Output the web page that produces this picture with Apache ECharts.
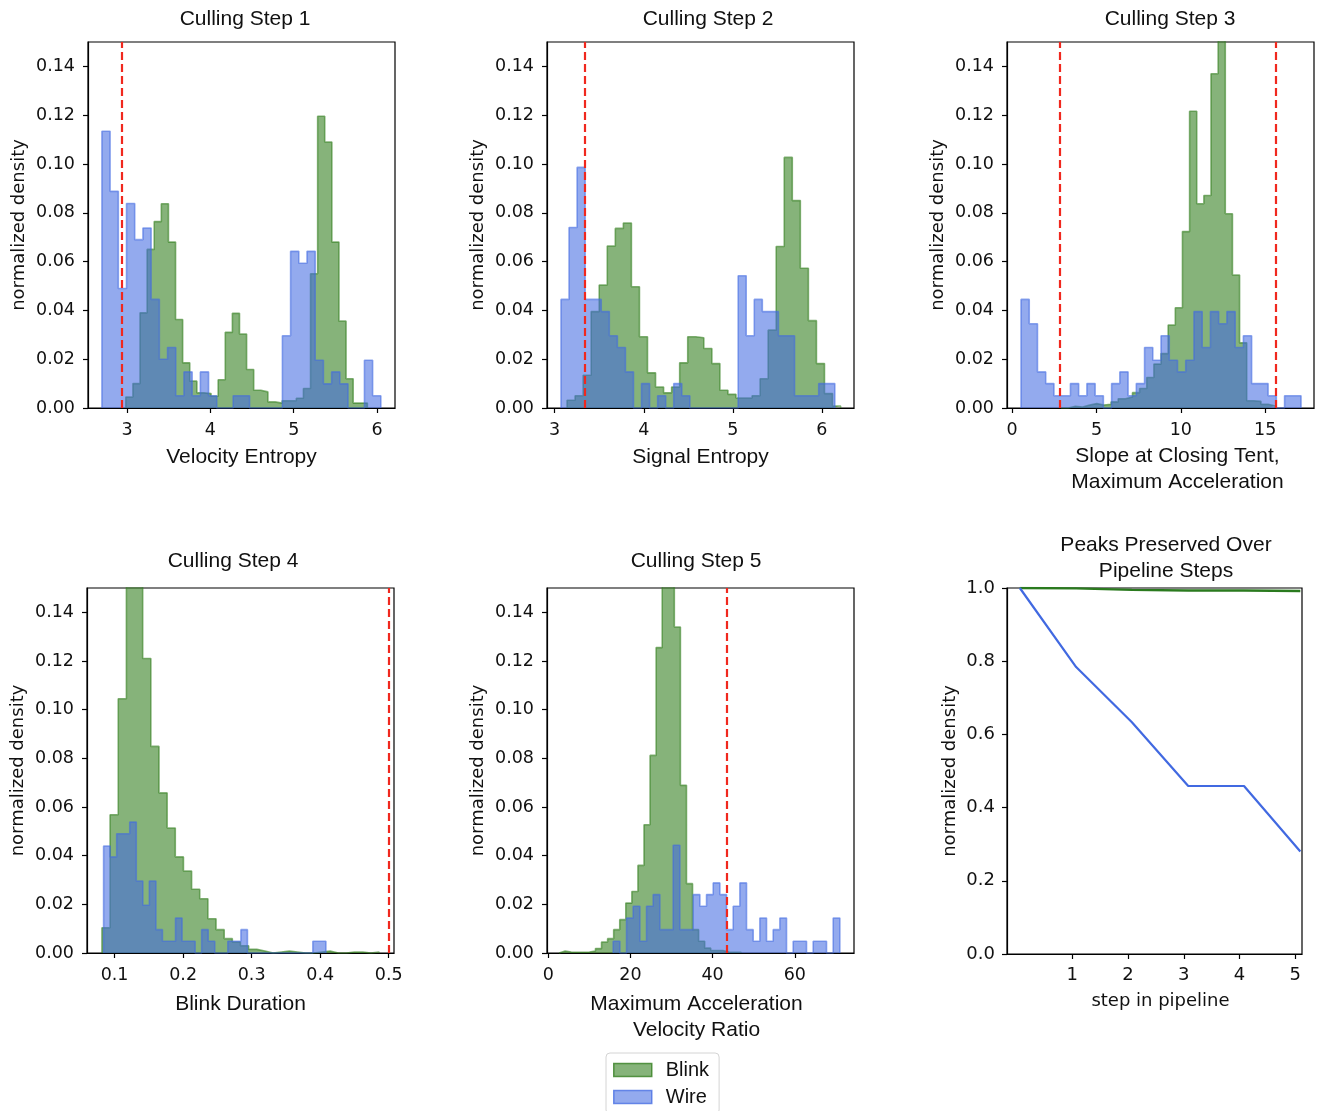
<!DOCTYPE html>
<html>
<head>
<meta charset="utf-8">
<script src="https://cdn.jsdelivr.net/npm/echarts@6/dist/echarts.min.js"></script>
<style>
  html, body { margin: 0; background: #fff; }
  #chart { width: 1317px; height: 1111px; }
</style>
</head>
<body>
<div id="chart"></div>
<script>
// ---- data (normalized density per bin) ----
// step 1: velocity entropy
const step1BlinkStart = 2.984, step1BlinkWidth = 0.0853
const step1Blink = [0.0045, 0.010, 0.039, 0.065, 0.0764, 0.0837, 0.068, 0.0363, 0.0185, 0.011, 0.0062, 0.0059, 0.0048, 0.0116, 0.031, 0.0388, 0.0303, 0.0158, 0.0073, 0.0066, 0.0025, 0.002, 0.003, 0.003, 0.004, 0.008, 0.055, 0.1196, 0.109, 0.068, 0.0356, 0.012, 0.002, 0.002]
const step1WireStart = 2.697, step1WireWidth = 0.0985
const step1Wire = [0.1134, 0.0888, 0.049, 0.0838, 0.069, 0.0738, 0.0445, 0.020, 0.0248, 0.005, 0.0148, 0.005, 0.0148, 0.005, 0, 0, 0.005, 0.005, 0, 0, 0, 0, 0.0296, 0.0642, 0.0593, 0.0642, 0.0196, 0.0099, 0.0148, 0.0099, 0, 0, 0.0196, 0.005]
const step1Cuts = [2.93]
const step1Ticks = [3, 4, 5, 6]

// step 2: signal entropy
const step2BlinkStart = 3.139, step2BlinkWidth = 0.0903
const step2Blink = [0.0032, 0.005, 0.0134, 0.0395, 0.0504, 0.0664, 0.0736, 0.0758, 0.0497, 0.0292, 0.0144, 0.0086, 0.0062, 0.0086, 0.0185, 0.0292, 0.0288, 0.0244, 0.0182, 0.0073, 0.0056, 0.0041, 0.0041, 0.005, 0.012, 0.0319, 0.0662, 0.1027, 0.085, 0.0573, 0.0358, 0.0182, 0.0059, 0.0008]
const step2WireStart = 3.071, step2WireWidth = 0.0904
const step2Wire = [0.0445, 0.074, 0.0986, 0.0445, 0.0445, 0.0395, 0.0296, 0.0248, 0.0148, 0, 0.01, 0, 0.005, 0, 0.01, 0.005, 0, 0, 0, 0, 0, 0, 0.0542, 0.0296, 0.0445, 0.0395, 0.0395, 0.0296, 0.0296, 0.005, 0.005, 0.005, 0.01, 0.01]
const step2Cuts = [3.34]
const step2Ticks = [3, 4, 5, 6]

// step 3: slope at closing tent, maximum acceleration
const step3BlinkStart = 2.905, step3BlinkWidth = 0.423
const step3Blink = [0, 0.0007, 0.0004, 0.0012, 0.0018, 0.0012, 0.0015, 0.0025, 0.0038, 0.0045, 0.0063, 0.008, 0.0125, 0.018, 0.0223, 0.034, 0.0411, 0.0723, 0.1216, 0.0837, 0.0871, 0.137, 0.165, 0.0796, 0.0545, 0.0267, 0.003, 0.0027, 0.0015, 0.0008]
const step3WireStart = 0.53, step3WireWidth = 0.488
const step3Wire = [0.0445, 0.0345, 0.0148, 0.01, 0.005, 0.005, 0.01, 0.005, 0.01, 0.005, 0, 0.01, 0.0148, 0.005, 0.01, 0.0248, 0.0196, 0.0296, 0.0196, 0.0148, 0.0196, 0.0395, 0.0248, 0.0395, 0.0345, 0.0395, 0.0248, 0.0296, 0.01, 0.01, 0.005, 0, 0.005, 0.005]
const step3Cuts = [2.85, 15.63]
const step3Ticks = [0, 5, 10, 15]

// step 4: blink duration
const step4BlinkStart = 0.0816, step4BlinkWidth = 0.01189
const step4Blink = [0.0104, 0.0568, 0.1045, 0.17, 0.165, 0.121, 0.0849, 0.0658, 0.0514, 0.0395, 0.0337, 0.0262, 0.0223, 0.0141, 0.0096, 0.0059, 0.0045, 0.003, 0.0015, 0.0008, 0, 0.0004, 0.0008, 0.0004, 0, 0, 0.0004, 0.0008, 0, 0, 0.0004, 0.0004, 0, 0.0004]
const step4WireStart = 0.084, step4WireWidth = 0.00954
const step4Wire = [0.044, 0.0395, 0.049, 0.049, 0.0538, 0.0296, 0.0196, 0.0296, 0.0096, 0.0048, 0.0048, 0.0144, 0.0048, 0.0048, 0, 0.0096, 0.0048, 0, 0, 0.0048, 0.0048, 0.0096, 0, 0, 0, 0, 0, 0, 0, 0, 0, 0, 0.0048, 0.0048]
const step4Cuts = [0.5]
const step4Ticks = [0.1, 0.2, 0.3, 0.4, 0.5]

// step 5: maximum acceleration / velocity ratio
const step5BlinkStart = 2.64, step5BlinkWidth = 1.476
const step5Blink = [0.0008, 0.0004, 0.0003, 0.0003, 0.0004, 0.0008, 0.0018, 0.0045, 0.0059, 0.0096, 0.0137, 0.0205, 0.0253, 0.036, 0.0527, 0.0812, 0.1255, 0.17, 0.16, 0.134, 0.0689, 0.0285, 0.0096, 0.0048, 0.002, 0.001, 0.001, 0.0004, 0.0003, 0.0003]
const step5WireStart = 15.81, step5WireWidth = 1.622
const step5Wire = [0.0048, 0, 0.0144, 0.0192, 0.0048, 0.0192, 0.024, 0.0096, 0.0096, 0.0443, 0.0096, 0.0096, 0.024, 0.0192, 0.024, 0.0288, 0.024, 0.0096, 0.0192, 0.0288, 0.0096, 0.0048, 0.0144, 0.0048, 0.0096, 0.0144, 0, 0.0048, 0.0048, 0, 0.0048, 0.0048, 0, 0.0144]
const step5Cuts = [43.4]
const step5Ticks = [0, 20, 40, 60]

const densityTicks = [0, 0.02, 0.04, 0.06, 0.08, 0.10, 0.12, 0.14]

// peaks preserved over pipeline steps
const pipelineSteps = [0.06, 1.07, 2.07, 3.08, 4.08, 5.09]
const blinkPreserved = [1.0, 0.999, 0.995, 0.993, 0.993, 0.992]
const wirePreserved = [1.0, 0.784, 0.633, 0.459, 0.459, 0.28]
const pipelineTicks = [1, 2, 3, 4, 5]
const preservedTicks = [0, 0.2, 0.4, 0.6, 0.8, 1.0]

// ---- styles ----
const blinkFill = 'rgba(54,128,34,0.6)'
const wireFill = 'rgba(65,105,225,0.57)'
const cutColor = '#f0281e'
const ink = '#111'
const tickFont = { fontFamily: 'DejaVu Sans', fontSize: 17.5, color: ink }
const titleFont = 'Liberation Sans'

// step outline of a histogram: start edge, top of each bin, end edge
function stepPoints(start, width, heights) {
  const pts = [[start, 0]]
  heights.forEach((h, i) => pts.push([start + i * width, h]))
  pts.push([start + heights.length * width, 0])
  return pts
}

const panels = [
  { title: 'Culling Step 1', titleX: 245, xName: 'Velocity Entropy', gap: 36, namePad: [0, 0, 0, 0],
    grid: { left: 88, top: 42, width: 307, height: 366 }, min: 2.53, max: 6.216, ticks: step1Ticks, digits: 0,
    blink: stepPoints(step1BlinkStart, step1BlinkWidth, step1Blink), wire: stepPoints(step1WireStart, step1WireWidth, step1Wire), cuts: step1Cuts },
  { title: 'Culling Step 2', titleX: 708, xName: 'Signal Entropy', gap: 36, namePad: [0, 0, 0, 0],
    grid: { left: 547, top: 42, width: 307, height: 366 }, min: 2.914, max: 6.36, ticks: step2Ticks, digits: 0,
    blink: stepPoints(step2BlinkStart, step2BlinkWidth, step2Blink), wire: stepPoints(step2WireStart, step2WireWidth, step2Wire), cuts: step2Cuts },
  { title: 'Culling Step 3', titleX: 1170, xName: 'Slope at Closing Tent,\nMaximum Acceleration', gap: 35, namePad: [0, 0, 0, 34],
    grid: { left: 1007, top: 42, width: 307, height: 366 }, min: -0.3, max: 17.89, ticks: step3Ticks, digits: 0,
    blink: stepPoints(step3BlinkStart, step3BlinkWidth, step3Blink), wire: stepPoints(step3WireStart, step3WireWidth, step3Wire), cuts: step3Cuts },
  { title: 'Culling Step 4', titleX: 233, xName: 'Blink Duration', gap: 38, namePad: [0, 0, 0, 0],
    grid: { left: 87, top: 588, width: 307, height: 365 }, min: 0.0598, max: 0.5077, ticks: step4Ticks, digits: 1,
    blink: stepPoints(step4BlinkStart, step4BlinkWidth, step4Blink), wire: stepPoints(step4WireStart, step4WireWidth, step4Wire), cuts: step4Cuts },
  { title: 'Culling Step 5', titleX: 696, xName: 'Maximum Acceleration\nVelocity Ratio', gap: 38, namePad: [0, 8, 0, 0],
    grid: { left: 547, top: 588, width: 307, height: 365 }, min: -0.3, max: 74.4, ticks: step5Ticks, digits: 0,
    blink: stepPoints(step5BlinkStart, step5BlinkWidth, step5Blink), wire: stepPoints(step5WireStart, step5WireWidth, step5Wire), cuts: step5Cuts }
]

const grids = []
const xAxes = []
const yAxes = []
const series = []
const graphics = []

panels.forEach((p, i) => {
  grids.push(Object.assign({ show: true, borderColor: '#000', borderWidth: 1.2 }, p.grid))
  xAxes.push({
    type: 'value', gridIndex: i, min: p.min, max: p.max,
    name: p.xName, nameLocation: 'middle', nameGap: p.gap,
    nameTextStyle: { fontFamily: titleFont, fontSize: 21, color: ink, lineHeight: 26, padding: p.namePad },
    axisLine: { show: true, onZero: false, lineStyle: { color: '#000', width: 1.2 } },
    axisTick: { show: true, length: 5, customValues: p.ticks, lineStyle: { color: '#000', width: 1.2 } },
    axisLabel: Object.assign({ customValues: p.ticks, margin: 13, formatter: v => v.toFixed(p.digits) }, tickFont),
    splitLine: { show: false }
  })
  yAxes.push({
    type: 'value', gridIndex: i, min: 0, max: 0.15,
    name: 'normalized density', nameLocation: 'middle', nameGap: 60, nameRotate: 90,
    nameTextStyle: { fontFamily: 'DejaVu Sans', fontSize: 18, color: ink },
    axisLine: { show: true, onZero: false, lineStyle: { color: '#000', width: 1.2 } },
    axisTick: { show: true, length: 5, customValues: densityTicks, lineStyle: { color: '#000', width: 1.2 } },
    axisLabel: Object.assign({ customValues: densityTicks, margin: 13, formatter: v => v.toFixed(2) }, tickFont),
    splitLine: { show: false }
  })
  series.push({
    name: 'Blink', type: 'line', xAxisIndex: i, yAxisIndex: i, data: p.blink,
    step: 'end', symbol: 'none', lineStyle: { color: blinkFill, width: 1.6 },
    itemStyle: { color: blinkFill }, areaStyle: { color: blinkFill, opacity: 1 },
    emphasis: { disabled: true }, z: 2
  })
  series.push({
    name: 'Wire', type: 'line', xAxisIndex: i, yAxisIndex: i, data: p.wire,
    step: 'end', symbol: 'none', lineStyle: { color: wireFill, width: 1.6 },
    itemStyle: { color: wireFill }, areaStyle: { color: wireFill, opacity: 1 },
    emphasis: { disabled: true }, z: 3,
    markLine: {
      silent: true, symbol: ['none', 'none'], label: { show: false },
      lineStyle: { color: cutColor, type: [8, 4], width: 2.2 },
      data: p.cuts.map(v => ({ xAxis: v })), animation: false
    }
  })
  graphics.push({
    type: 'text', x: p.titleX, y: i < 3 ? 19 : 561,
    style: { text: p.title, fontFamily: titleFont, fontSize: 21, fill: ink, align: 'center', verticalAlign: 'middle' }
  })
})

// peaks preserved panel
grids.push({ show: true, borderColor: '#000', borderWidth: 1.2, left: 1007, top: 588, width: 295, height: 366 })
xAxes.push({
  type: 'value', gridIndex: 5, min: -0.17, max: 5.12,
  name: 'step in pipeline', nameLocation: 'middle', nameGap: 38,
  nameTextStyle: { fontFamily: 'DejaVu Sans', fontSize: 18, color: ink, padding: [0, 0, 0, 12] },
  axisLine: { show: true, onZero: false, lineStyle: { color: '#000', width: 1.2 } },
  axisTick: { show: true, length: 5, customValues: pipelineTicks, lineStyle: { color: '#000', width: 1.2 } },
  axisLabel: Object.assign({ customValues: pipelineTicks, margin: 12 }, tickFont, { fontSize: 18 }),
  splitLine: { show: false }
})
yAxes.push({
  type: 'value', gridIndex: 5, min: 0, max: 1,
  name: 'normalized density', nameLocation: 'middle', nameGap: 48, nameRotate: 90,
  nameTextStyle: { fontFamily: 'DejaVu Sans', fontSize: 18, color: ink },
  axisLine: { show: true, onZero: false, lineStyle: { color: '#000', width: 1.2 } },
  axisTick: { show: true, length: 5, customValues: preservedTicks, lineStyle: { color: '#000', width: 1.2 } },
  axisLabel: Object.assign({ customValues: preservedTicks, margin: 12, formatter: v => v.toFixed(1) }, tickFont, { fontSize: 18 }),
  splitLine: { show: false }
})
series.push({
  name: 'Blink peaks', type: 'line', xAxisIndex: 5, yAxisIndex: 5,
  data: pipelineSteps.map((s, i) => [s, blinkPreserved[i]]),
  symbol: 'none', lineStyle: { color: '#2a7a1e', width: 2.4 }, emphasis: { disabled: true }
})
series.push({
  name: 'Wire peaks', type: 'line', xAxisIndex: 5, yAxisIndex: 5,
  data: pipelineSteps.map((s, i) => [s, wirePreserved[i]]),
  symbol: 'none', lineStyle: { color: '#4169e1', width: 2.2 }, emphasis: { disabled: true }
})
graphics.push({
  type: 'text', x: 1166, y: 558,
  style: { text: 'Peaks Preserved Over\nPipeline Steps', fontFamily: titleFont, fontSize: 21, lineHeight: 26, fill: ink, align: 'center', verticalAlign: 'middle' }
})

const chart = echarts.init(document.getElementById('chart'))
chart.setOption({
  animation: false,
  backgroundColor: '#fff',
  grid: grids,
  xAxis: xAxes,
  yAxis: yAxes,
  series: series,
  graphic: graphics,
  legend: {
    orient: 'vertical', left: 606, top: 1053, height: 120,
    itemWidth: 38, itemHeight: 13, itemGap: 7,
    padding: [7, 10, 7, 7],
    borderColor: '#d4d4d4', borderWidth: 1, borderRadius: 4,
    selectedMode: false,
    textStyle: { fontFamily: titleFont, fontSize: 20, lineHeight: 20, color: ink, padding: [0, 0, 0, 9] },
    data: [
      { name: 'Blink', icon: 'rect', itemStyle: { color: blinkFill, borderColor: 'rgba(54,128,34,0.8)', borderWidth: 1.5 } },
      { name: 'Wire', icon: 'rect', itemStyle: { color: wireFill, borderColor: 'rgba(65,105,225,0.75)', borderWidth: 1.5 } }
    ]
  }
})
</script>
</body>
</html>
